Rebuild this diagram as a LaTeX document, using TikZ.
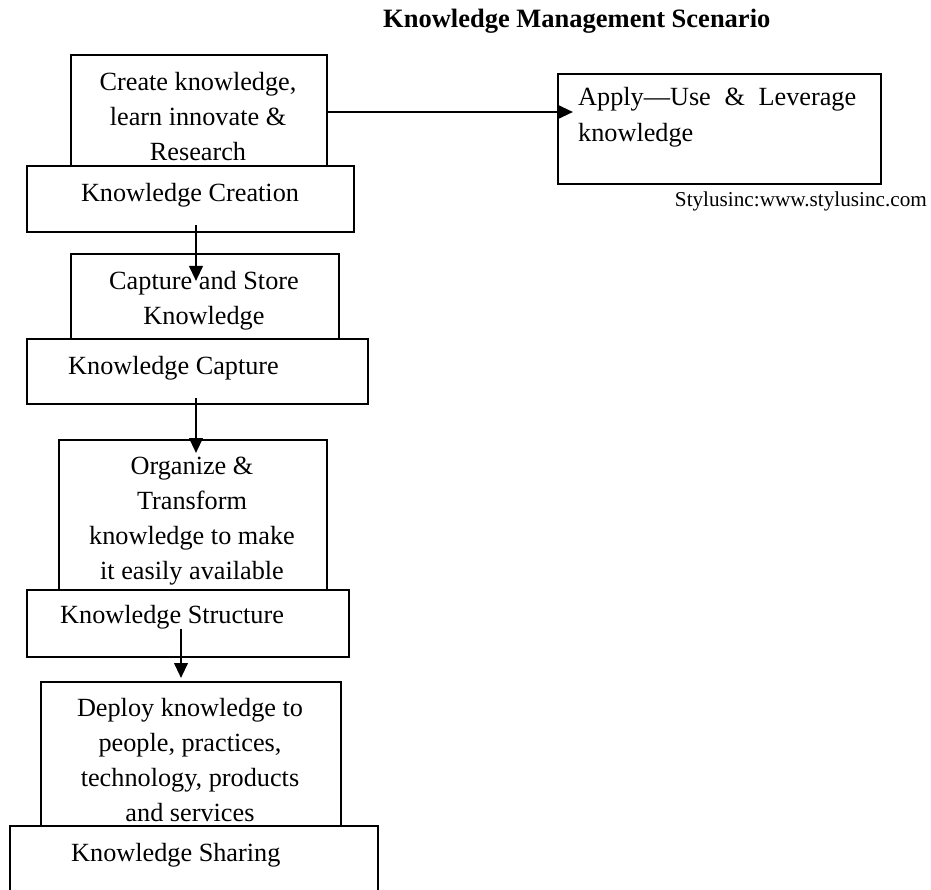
\documentclass[tikz,border=0pt]{standalone}
\usepackage{fontspec}
\setmainfont{Liberation Serif}
\usetikzlibrary{arrows.meta}
\begin{document}
\begin{tikzpicture}[x=1pt,y=-1pt,
  box/.style={draw,line width=2pt,inner sep=0pt,anchor=north west},
  txt/.style={inner sep=0pt,font=\fontsize{26.25}{35}\selectfont},
  multi/.style={txt,align=center,anchor=north},
  arr/.style={line width=2.4pt,-{Triangle[length=15pt,width=13.5pt]}}]
\useasboundingbox (0,0) rectangle (931,890);
% boxes
\node[box,minimum width=256pt,minimum height=111pt] (b1) at (70,54) {};
\node[box,minimum width=327pt,minimum height=66pt] (b1b) at (26,165) {};
\node[box,minimum width=268pt,minimum height=85pt] (b2) at (70,253) {};
\node[box,minimum width=341pt,minimum height=65pt] (b2b) at (26,338) {};
\node[box,minimum width=268pt,minimum height=150pt] (b3) at (58,439) {};
\node[box,minimum width=322pt,minimum height=67pt] (b3b) at (26,589) {};
\node[box,minimum width=300pt,minimum height=144pt] (b4) at (40,681) {};
\node[box,minimum width=368pt,minimum height=80pt] (b4b) at (9,825) {};
\node[box,minimum width=323pt,minimum height=110pt] (ap) at (557,73) {};
% texts
\node[txt,font=\fontsize{26.5}{32}\selectfont\bfseries,anchor=base west] (title) at (383,28) {Knowledge Management Scenario};
\node[multi] (t1) at (198,65.5) {\strut Create knowledge,\\ learn innovate \&\\ Research};
\node[txt,anchor=base] (t1b) at (190,202) {Knowledge Creation};
\node[multi] (t2) at (204,264.5) {\strut Capture and Store\\ Knowledge};
\node[txt,anchor=base west] (t2b) at (68,374) {Knowledge Capture};
\node[multi] (t3) at (192,449.5) {\strut Organize \&\\ Transform\\ knowledge to make\\ it easily available};
\node[txt,anchor=base west] (t3b) at (60,623) {Knowledge Structure};
\node[multi] (t4) at (190,691.5) {\strut Deploy knowledge to\\ people, practices,\\ technology, products\\ and services};
\node[txt,anchor=base west] (t4b) at (71,861) {Knowledge Sharing};
\node[txt,anchor=base west] (ap1) at (578,106) {\hbox to 278pt{Apply---Use\hfill\&\hfill Leverage}};
\node[txt,anchor=base west] (ap2) at (578,142) {knowledge};
\node[txt,font=\fontsize{21.2}{25}\selectfont,anchor=base east] (sty) at (927,207) {Stylusinc:www.stylusinc.com};
% connectors
\coordinate (a0s) at (326,112);
\coordinate (a0e) at (573,112);
\coordinate (a1s) at (196,225);
\coordinate (a1e) at (196,281);
\coordinate (a2s) at (196,398);
\coordinate (a2e) at (196,453);
\coordinate (a3s) at (181,629);
\coordinate (a3e) at (181,678);
\draw[arr] (a0s) -- (a0e);
\draw[arr] (a1s) -- (a1e);
\draw[arr] (a2s) -- (a2e);
\draw[arr] (a3s) -- (a3e);
\end{tikzpicture}
\end{document}
